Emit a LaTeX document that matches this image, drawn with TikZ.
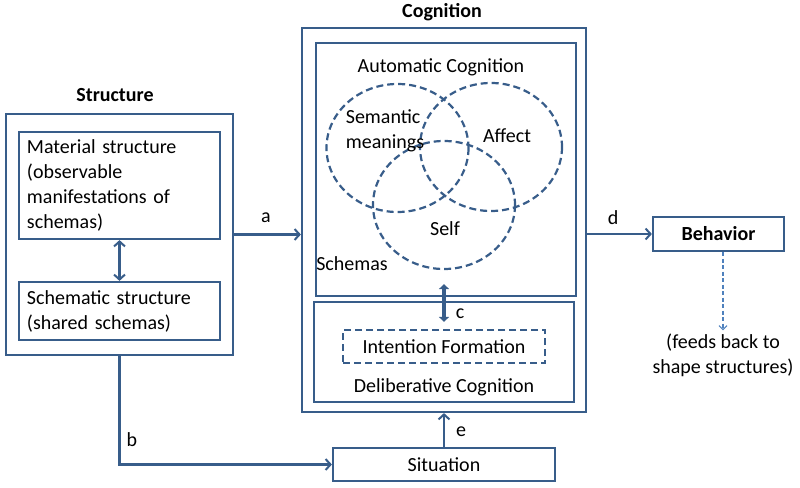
\documentclass[tikz,border=0pt]{standalone}
\usepackage{fontspec}
\setmainfont{Carlito}
\usetikzlibrary{arrows.meta}

\definecolor{frameblue}{RGB}{56,93,138}
\definecolor{feedblue}{RGB}{79,129,189}

\begin{document}
\begin{tikzpicture}[x=1pt, y=-1pt,
  font=\fontsize{20}{25}\selectfont,
  blockbox/.style={draw=frameblue, line width=2.2pt, inner sep=0pt},
  dashbox/.style={draw=frameblue, line width=2.2pt, dash pattern=on 7pt off 4pt, inner sep=0pt},
  arr/.style={draw=frameblue, line width=2.2pt, -{Straight Barb[length=5pt, width=11pt, line width=2pt]}},
  dblarr/.style={draw=frameblue, line width=2.2pt, {Straight Barb[length=5pt, width=11pt, line width=2pt]}-{Straight Barb[length=5pt, width=11pt, line width=2pt]}},
  lbl/.style={inner sep=0pt}]

\newcommand{\circrx}{71}
\newcommand{\circry}{64}

\useasboundingbox (0,0) rectangle (800,487);

% structure
\node[lbl, font=\fontsize{20}{25}\selectfont\bfseries] (structtitle) at (115,95) {Structure};
\node[blockbox, minimum width=227, minimum height=241] (struct) at (119.5,234.5) {};
\node[blockbox, minimum width=201, minimum height=107, text width=185, align=left] (material) at (119.5,185.5)
  {Material structure\\(observable\\manifestations of\\schemas)};
\node[blockbox, minimum width=201, minimum height=58, text width=185, align=left] (schematic) at (119.5,311)
  {Schematic structure\\(shared schemas)};
\draw[dblarr] (material) -- (schematic);

% cognition
\node[lbl, font=\fontsize{20}{25}\selectfont\bfseries] (cogtitle) at (442,12) {Cognition};
\node[blockbox, minimum width=284, minimum height=384] (cog) at (444,220) {};
\node[blockbox, minimum width=260, minimum height=253] (auto) at (446,169.5) {};
\node[lbl] (autotitle) at (441,67) {Automatic Cognition};

% schema circles
\draw[frameblue, line width=2.2pt, dash pattern=on 7pt off 4pt] (397.5,148) ellipse [x radius=\circrx, y radius=\circry];
\draw[frameblue, line width=2.2pt, dash pattern=on 7pt off 4pt] (491,147) ellipse [x radius=\circrx, y radius=\circry];
\draw[frameblue, line width=2.2pt, dash pattern=on 7pt off 4pt] (444,205) ellipse [x radius=\circrx, y radius=\circry];
\node[lbl, align=left] (semantic) at (385,131) {Semantic\\meanings};
\node[lbl] (affect) at (507,136) {Affect};
\node[lbl] (self) at (445,229) {Self};
\node[lbl] (schemas) at (352,264) {Schemas};

% deliberative
\node[blockbox, minimum width=260, minimum height=100] (delib) at (444,352) {};
\node[dashbox, minimum width=202, minimum height=33] (intent) at (444,346.5) {Intention Formation};
\node[lbl] (delibtitle) at (444,387) {Deliberative Cognition};
\draw[draw=frameblue, line width=3.5pt, {Triangle[length=5pt, width=10pt]}-{Triangle[length=5pt, width=10pt]}]
  ([yshift=13pt]auto.south -| intent.north) -- ([yshift=7pt]intent.north);
\node[lbl] (clbl) at (460,314) {c};

% situation and behavior
\node[blockbox, minimum width=222, minimum height=33] (sit) at (444,464.5) {Situation};
\node[blockbox, minimum width=131, minimum height=34, font=\fontsize{20}{25}\selectfont\bfseries] (behav) at (718.5,234) {Behavior};
\node[lbl, align=center] (feed) at (723,355) {(feeds back to\\shape structures)};

% links
\draw[arr] (struct.east) -- (struct.east -| cog.west);
\node[lbl] (albl) at (266,218) {a};
\draw[arr] (struct.south) |- (sit.west);
\node[lbl] (blbl) at (132,440) {b};
\draw[arr] (cog.east |- behav.west) -- (behav.west);
\node[lbl] (dlbl) at (613,218) {d};
\draw[arr] (sit.north) -- (cog.south);
\node[lbl] (elbl) at (461,432) {e};
\draw[feedblue, line width=1.1pt, dash pattern=on 4pt off 2.5pt, -{Straight Barb[length=4pt, width=8pt, line width=1.1pt]}]
  (behav.south -| feed.north) -- ([yshift=3pt]feed.north);

\end{tikzpicture}
\end{document}
